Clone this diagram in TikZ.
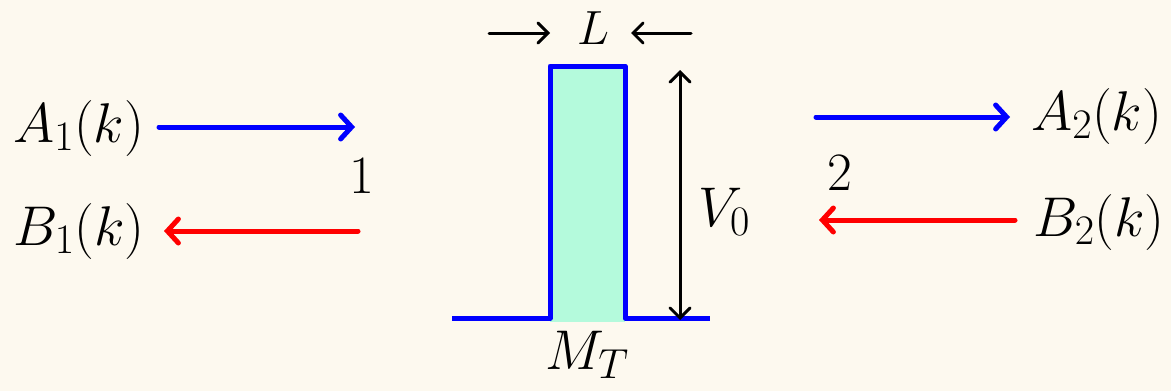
\RequirePackage{fix-cm}
\documentclass[tikz,border=0pt]{standalone}
\usetikzlibrary{arrows.meta}
\DeclareMathSizes{56}{56}{42}{32}
\DeclareMathSizes{48}{48}{36}{28}
\definecolor{bg}{RGB}{253,249,239}
\definecolor{barrier}{RGB}{180,250,220}
\definecolor{wblue}{RGB}{0,0,255}
\definecolor{wred}{RGB}{255,0,0}
\begin{document}
\begin{tikzpicture}[x=1pt,y=-1pt,
  wave/.style={line width=5pt, line cap=round, -{Straight Barb[length=11pt,width=24pt,line cap=round]}},
  dim/.style={line width=3pt, line cap=round, -{Straight Barb[length=10pt,width=20pt,line cap=round]}},
  dimboth/.style={line width=3pt, line cap=round, {Straight Barb[length=10pt,width=20pt,line cap=round]}-{Straight Barb[length=10pt,width=20pt,line cap=round]}},
  lab/.style={font=\fontsize{56}{62}\selectfont, inner sep=0pt},
  num/.style={font=\fontsize{54}{60}\selectfont, inner sep=0pt}]
\fill[bg] (0,0) rectangle (1171,391);
\useasboundingbox (0,0) rectangle (1171,391);
% barrier fill
\fill[barrier] (550,66) rectangle (625,322);
\draw[wblue, line width=5pt, line join=round] (452,318) -- (550,318) -- (550,66) -- (625,66) -- (625,318) -- (710,318);
% left
\node[lab, anchor=west] (a1) at (13,128) {$A_1(k)$};
\node[lab, anchor=west] (b1) at (13,231) {$B_1(k)$};
\coordinate (a1e) at (355,127);
\coordinate (b1s) at (358,231);
\draw[wave, wblue] (159,127) -- (a1e);
\draw[wave, wred] (b1s) -- (164,231);
\node[num] (n1) at (362,176) {1};
% right
\node[lab, anchor=west] (a2) at (1031,116) {$A_2(k)$};
\node[lab, anchor=west] (b2) at (1033,222) {$B_2(k)$};
\coordinate (a2s) at (816,117);
\coordinate (b2e) at (819,220);
\draw[wave, wblue] (a2s) -- (1010,117);
\draw[wave, wred] (1015,220) -- (b2e);
\node[num] (n2) at (840,173) {2};
% dimensions
\coordinate (vt) at (680,70);
\coordinate (vb) at (680,320);
\draw[dimboth] (vt) -- (vb);
\node[lab] (v0) at (724,212) {$V_0$};
\node[lab, font=\fontsize{48}{52}\selectfont] (L) at (593,28) {$L$};
\coordinate (ll) at (489,33);
\coordinate (lr) at (691,33);
\draw[dim] (ll) -- (550,33);
\draw[dim] (lr) -- (631,33);
\node[lab] (mt) at (587,355) {$M_T$};
\end{tikzpicture}
\end{document}
